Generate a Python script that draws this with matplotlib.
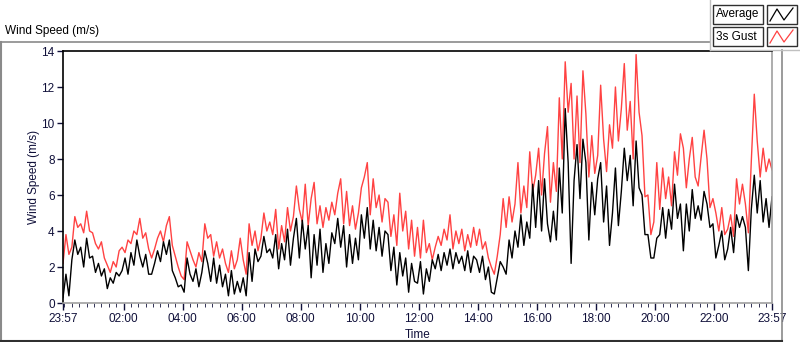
import numpy as np
import matplotlib.pyplot as plt
from matplotlib.patches import Rectangle
from matplotlib.lines import Line2D

plt.rcParams['font.family'] = ['Liberation Sans', 'DejaVu Sans']

# wind speed readings (m/s), one every 6 minutes starting at 23:57
gust = [
    2.2, 3.8, 2.7, 3.1, 4.8, 4.2, 4.4, 3.9, 5.1, 4.0,
    3.9, 3.3, 3.0, 3.4, 2.5, 2.1, 1.7, 2.3, 2.0, 2.9,
    3.1, 2.8, 3.5, 3.3, 4.0, 3.8, 4.7, 3.6, 3.9, 3.0,
    2.5, 3.0, 3.6, 4.0, 3.4, 4.3, 4.8, 3.2, 2.6, 2.0,
    1.5, 1.3, 3.4, 2.9, 2.4, 2.0, 2.8, 2.3, 4.4, 3.6,
    3.8, 2.6, 3.4, 2.5, 3.0, 2.2, 1.7, 2.9, 1.9, 2.4,
    3.6, 2.4, 1.6, 4.4, 3.2, 4.0, 2.9, 3.6, 5.0, 4.0,
    4.5, 3.8, 5.2, 3.0, 4.3, 3.4, 5.3, 4.0, 4.8, 6.5,
    5.2, 4.5, 6.6, 4.3, 5.8, 6.7, 4.4, 5.4, 4.2, 5.3,
    4.6, 5.6, 4.9, 6.1, 6.9, 4.4, 6.2, 4.3, 5.4, 4.1,
    5.0, 6.4, 7.0, 7.8, 4.9, 6.9, 5.3, 6.0, 4.5, 5.8,
    5.6, 3.7, 4.9, 3.2, 6.1, 4.0, 5.1, 3.0, 4.6, 2.6,
    4.2, 2.5, 4.6, 2.8, 3.3, 2.4, 3.1, 3.7, 3.2, 4.1,
    3.5, 4.9, 3.0, 4.0, 3.3, 4.1, 2.9, 3.8, 3.1, 4.2,
    3.2, 4.1, 3.0, 3.4, 2.5, 2.0, 1.6, 2.6, 3.8, 5.8,
    4.2, 5.9, 4.5, 5.5, 7.8, 5.0, 6.5, 5.3, 8.4, 6.2,
    7.1, 8.6, 6.0, 8.3, 9.8, 5.6, 7.8, 6.2, 11.4, 8.0,
    13.4, 10.6, 12.2, 8.0, 11.5, 7.8, 12.9, 10.5, 7.0, 9.3,
    7.2, 8.2, 12.1, 9.1, 7.3, 9.9, 8.6, 12.0, 9.0, 10.8,
    13.3, 9.6, 11.2, 8.0, 13.8, 10.6, 9.3, 5.9, 6.0, 3.8,
    4.5, 7.8, 5.2, 7.5, 5.8, 7.0, 5.4, 8.4, 7.1, 9.4,
    8.6, 6.4, 8.0, 9.2, 7.0, 6.5, 8.1, 9.6, 8.0, 5.3,
    5.8, 5.0, 4.0, 5.3, 3.8, 4.1, 4.9, 3.7, 6.9, 5.5,
    6.6, 5.5, 3.9, 7.9, 11.6, 9.0, 7.0, 8.6, 7.3, 8.0,
    7.4,
]

average = [
    0.3, 1.6, 0.4, 2.4, 3.5, 2.7, 3.1, 2.0, 3.6, 2.5,
    2.6, 1.7, 2.2, 1.5, 1.9, 0.8, 1.4, 1.1, 1.7, 1.5,
    1.8, 2.5, 1.6, 2.8, 2.1, 3.5, 2.6, 2.0, 2.7, 1.6,
    1.6, 2.2, 2.9, 2.3, 3.4, 2.7, 3.5, 1.8, 1.4, 0.9,
    1.0, 0.6, 2.5, 1.6, 1.2, 1.9, 0.9, 1.7, 2.9, 2.2,
    1.2, 2.5, 1.1, 2.1, 0.9, 1.6, 0.4, 1.8, 0.5, 1.2,
    0.6, 1.4, 0.4, 2.8, 1.2, 3.0, 2.3, 2.6, 3.7, 2.8,
    3.0, 2.5, 3.8, 1.9, 3.3, 2.4, 4.1, 2.1, 3.6, 4.7,
    2.5, 4.6, 3.0, 4.3, 1.4, 3.8, 2.1, 4.1, 1.7, 3.3,
    2.2, 3.9, 3.3, 4.7, 3.1, 4.3, 2.0, 3.8, 2.2, 3.6,
    2.4, 4.9, 3.6, 5.3, 3.0, 4.6, 2.9, 4.2, 2.6, 4.0,
    3.8, 1.8, 3.1, 1.0, 2.8, 1.5, 2.5, 0.6, 2.2, 1.2,
    1.1, 2.3, 0.5, 1.9, 1.2, 2.4, 1.9, 2.7, 1.8, 2.8,
    2.1, 3.0, 1.9, 2.8, 2.2, 2.6, 1.8, 2.9, 1.7, 2.6,
    2.4, 1.7, 2.6, 1.3, 2.0, 0.6, 0.5, 1.4, 2.3, 2.0,
    1.6, 3.5, 2.5, 4.0, 3.1, 4.9, 3.2, 4.5, 3.6, 6.6,
    4.2, 6.8, 4.0, 6.9, 4.4, 3.4, 5.1, 3.5, 7.5, 5.0,
    10.8, 7.8, 2.2, 6.8, 8.8, 5.8, 9.1, 7.8, 3.5, 6.7,
    4.9, 6.9, 7.8, 4.5, 6.5, 3.2, 5.0, 7.5, 4.3, 6.2,
    8.6, 6.8, 8.2, 5.4, 9.0, 6.4, 6.0, 3.8, 3.8, 2.5,
    2.5, 3.6, 3.8, 5.3, 3.6, 5.2, 4.1, 6.6, 4.7, 5.5,
    2.9, 5.5, 4.0, 6.3, 4.7, 5.4, 4.6, 6.2, 5.5, 4.2,
    4.4, 2.5, 3.2, 4.0, 2.4, 3.0, 4.2, 2.8, 4.9, 4.2,
    4.8, 4.2, 1.8, 5.2, 7.1, 5.0, 6.8, 4.5, 5.8, 4.2,
    5.9,
]

# hours since 23:57
t = np.linspace(0, 24, len(gust))

xtick_pos = [0, 2.05, 4.05, 6.05, 8.05, 10.05, 12.05, 14.05, 16.05, 18.05, 20.05, 22.05, 24]
xtick_lab = ['23:57', '02:00', '04:00', '06:00', '08:00', '10:00', '12:00',
             '14:00', '16:00', '18:00', '20:00', '22:00', '23:57']

txt = '#10103a'
red = '#ff4242'

fig = plt.figure(figsize=(8, 3.42), dpi=100)
ax = fig.add_axes([63/800, 39/342, 709/800, 252/342])

ax.plot(t, gust, color=red, lw=1.0)
ax.plot(t, average, color='black', lw=1.0)

ax.set_xlim(0, 24)
ax.set_ylim(0, 14)
ax.set_yticks(range(0, 15, 2))
ax.set_xticks(xtick_pos)
ax.set_xticklabels(xtick_lab)
ax.set_xticks(np.arange(0.05, 24, 0.25), minor=True)
ax.tick_params(axis='both', labelsize=8.5, colors=txt, length=4, width=1, pad=2)
ax.tick_params(axis='x', which='major', length=5)
ax.tick_params(axis='x', which='minor', length=3, color=txt)
ax.set_ylabel('Wind Speed (m/s)', fontsize=8.5, color=txt, labelpad=1)
ax.set_xlabel('Time', fontsize=8.5, color=txt, labelpad=3)

ax.spines['top'].set_color('black')
ax.spines['left'].set_color('black')
ax.spines['right'].set_color('#a0a0a0')
ax.spines['bottom'].set_color('#a0a0a0')
for s in ax.spines.values():
    s.set_linewidth(1.2)

# outer panel frame
def px(x, y):
    return x / 800, 1 - y / 342

fig.add_artist(Line2D([px(1, 0)[0], px(1, 0)[0]], [px(0, 42)[1], px(0, 341)[1]], color='#8a8a8a', lw=1.5))
fig.add_artist(Line2D([px(0, 0)[0], px(710, 0)[0]], [px(0, 42)[1], px(0, 42)[1]], color='#8a8a8a', lw=1.2))
fig.add_artist(Line2D([px(782, 0)[0], px(782, 0)[0]], [px(0, 50)[1], px(0, 341)[1]], color='#8a8a8a', lw=1.2))
fig.add_artist(Line2D([px(0, 0)[0], px(782, 0)[0]], [px(0, 341)[1], px(0, 341)[1]], color='#303030', lw=1.5))
fig.add_artist(Line2D([px(710, 0)[0], px(710, 0)[0]], [px(0, 0)[1], px(0, 50)[1]], color='#c0c0c0', lw=1))
fig.add_artist(Line2D([px(710, 0)[0], px(800, 0)[0]], [px(0, 50)[1], px(0, 50)[1]], color='#c0c0c0', lw=1))

fig.text(5/800, 1 - 31/342, 'Wind Speed (m/s)', fontsize=8.5, color='black', va='center', ha='left')

# legend boxes
for row, (name, col) in enumerate([('Average', 'black'), ('3s Gust', red)]):
    y0 = 5 + row * 22
    x0, y1 = px(713, y0 + 19)
    fig.add_artist(Rectangle((x0, y1), 50/800, 19/342, facecolor='white',
                             edgecolor='#303030', lw=1, transform=fig.transFigure))
    fig.text(px(716, 0)[0], px(0, y0 + 9.5)[1], name, fontsize=8.5, va='center', ha='left')
    x1, _ = px(767, 0)
    fig.add_artist(Rectangle((x1, y1), 30/800, 19/342, facecolor='white',
                             edgecolor='#303030', lw=1, transform=fig.transFigure))
    zx = [770, 777, 784, 793]
    zy = [y0 + 16, y0 + 4, y0 + 15, y0 + 3]
    fig.add_artist(Line2D([v / 800 for v in zx], [1 - v / 342 for v in zy], color=col, lw=0.9))

fig.savefig('out.png', dpi=100)
